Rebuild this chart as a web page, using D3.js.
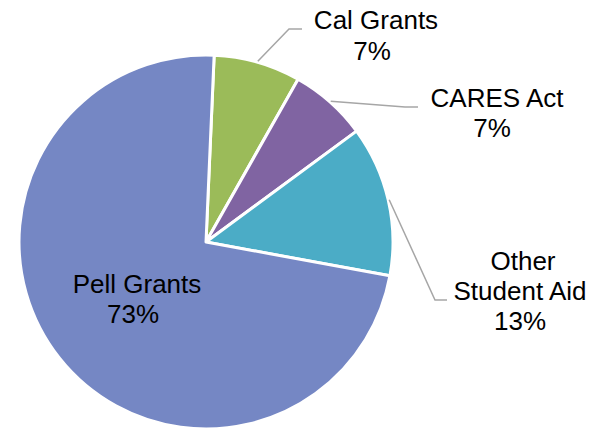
<!DOCTYPE html>
<meta charset="utf-8">

<style>
  body { margin: 0; background: #fff; }
  .label text { font-family: Arial, "Liberation Sans", sans-serif; font-size: 26px; fill: #000; }
</style>

<script src="https://d3js.org/d3.v7.min.js"></script>

<div id="chart"></div>

<script>

  // data
  var categories = ["Cal Grants", "CARES Act", "Other Student Aid", "Pell Grants"]
  var shares = [7.5, 6.7, 13.0, 72.8]
  var percentLabels = ["7%", "7%", "13%", "73%"]
  var colors = ["#9BBB59", "#8064A2", "#4BACC6", "#7587C4"]

  var width = 600, height = 428
  var cx = 206, cy = 242, radius = 187

  var svg = d3.select("#chart")
    .append("svg")
    .attr("width", width)
    .attr("height", height)

  var g = svg.append("g")
    .attr("transform", "translate(" + cx + "," + cy + ")")

  var startOffset = 2.5 * Math.PI / 180

  var pie = d3.pie()
    .sort(null)
    .startAngle(startOffset)
    .endAngle(startOffset + 2 * Math.PI)
    .value(function (d) { return d.value })

  var data = categories.map(function (c, i) {
    return { name: c, value: shares[i], pct: percentLabels[i], color: colors[i] }
  })

  var arcs = pie(data)

  var arc = d3.arc().innerRadius(0).outerRadius(radius)

  // slices
  g.selectAll("path.slice")
    .data(arcs)
    .enter()
    .append("path")
    .attr("class", "slice")
    .attr("d", arc)
    .style("fill", function (d) { return d.data.color })
    .style("stroke", "#fff")
    .style("stroke-width", 3)
    .style("stroke-linejoin", "round")

  // label layout (name line, percent line) in page coordinates
  var labelLayout = {
    "Cal Grants": { lines: [["Cal Grants", 376, 29], ["7%", 372, 60]], leader: [[289, 29], [302, 29]] },
    "CARES Act": { lines: [["CARES Act", 497, 107], ["7%", 492, 137]], leader: [[405, 107], [418, 107]] },
    "Other Student Aid": { lines: [["Other", 523, 270], ["Student Aid", 520, 300], ["13%", 520, 330]], leader: [[435, 300], [447, 300]] },
    "Pell Grants": { lines: [["Pell Grants", 137, 293], ["73%", 133, 323]], leader: null }
  }

  // leader lines start just outside the slice, at its middle angle
  var leaderArc = d3.arc().innerRadius(radius + 1).outerRadius(radius + 1)

  arcs.forEach(function (d) {
    var lay = labelLayout[d.data.name]
    if (lay.leader) {
      var p = leaderArc.centroid(d)
      var pts = [[p[0] + cx, p[1] + cy]].concat(lay.leader)
      svg.append("path")
        .attr("d", d3.line()(pts))
        .style("fill", "none")
        .style("stroke", "#A6A6A6")
        .style("stroke-width", 1.5)
    }

    var lbl = svg.append("g").attr("class", "label")
    lay.lines.forEach(function (l) {
      lbl.append("text")
        .attr("x", l[1])
        .attr("y", l[2])
        .attr("text-anchor", "middle")
        .text(l[0])
    })
  })

</script>
